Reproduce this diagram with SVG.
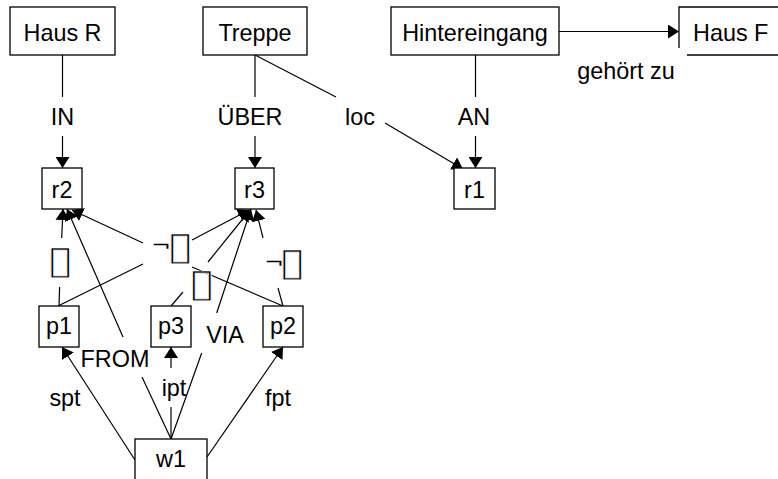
<svg xmlns="http://www.w3.org/2000/svg" width="778" height="479" viewBox="0 0 778 479">
<style>
text{font-family:"Liberation Sans",Arial,sans-serif;font-size:23.4px;fill:#000;text-anchor:middle}
.t{font-family:"DejaVu Sans",sans-serif;font-size:39px;stroke:#fff;stroke-width:0.7}
.n{font-family:"DejaVu Sans",sans-serif;font-size:18px}
.box{fill:#fff;stroke:#000;stroke-width:1.3}
.e{fill:none;stroke:#000;stroke-width:1.2}
.a{marker-end:url(#ah)}
</style>
<defs>
<marker id="ah" markerUnits="userSpaceOnUse" markerWidth="12" markerHeight="14" refX="11" refY="7" orient="auto">
<path d="M0,0 L11,7 L0,14 z" fill="#000"/>
</marker>
</defs>
<g id="connectors">
<g id="e-hausr-r2"><path class="e" d="M62.5,55 V97"/><path class="e a" d="M62.5,136 V168"/><text x="62.5" y="125">IN</text></g>
<g id="e-treppe-r3"><path class="e" d="M255,55 V97"/><path class="e a" d="M255,136 V168"/><text x="250" y="125">ÜBER</text></g>
<g id="e-hinter-r1"><path class="e" d="M475.5,55 V97"/><path class="e a" d="M475.5,136 V168"/><text x="474" y="125">AN</text></g>
<g id="e-treppe-r1"><path class="e" d="M255,55 L336,97"/><path class="e a" d="M385,123 L463,169"/><text x="360" y="125">loc</text></g>
<g id="e-hinter-hausf"><path class="e a" d="M559,31.5 H679"/><text x="626" y="79">gehört zu</text></g>
<g id="e-w1-p1"><path class="e a" d="M135,460 L62,347"/><text x="65" y="406">spt</text></g>
<g id="e-w1-p3"><path class="e" d="M171,439 V407"/><path class="e a" d="M171,368 V347"/><text x="174" y="396">ipt</text></g>
<g id="e-w1-p2"><path class="e a" d="M207,457 L283,347"/><text x="278" y="406">fpt</text></g>
<g id="e-w1-r2"><path class="e" d="M171,439 L142,377"/><path class="e a" d="M123,337 L67,209"/><text x="115" y="367">FROM</text></g>
<g id="e-w1-r3"><path class="e" d="M171,439 L201.7,353"/><path class="e a" d="M216.7,313 L251,209"/><text x="225" y="343">VIA</text></g>
<g id="e-p1-r2"><path class="e" d="M59,306 L59.6,287"/><path class="e a" d="M61.7,238 L63,209"/><text class="t" transform="matrix(1.3,0,0,1,60,0)" x="0" y="273.5">▯</text></g>
<g id="e-p1-r3"><path class="e" d="M58,306 L143,264"/><path class="e a" d="M192,240 L249,210"/></g>
<g id="e-p2-r2"><path class="e" d="M283,306 L192,267"/><path class="e a" d="M143,243 L72,210"/><text class="n" transform="matrix(1.3,0,0,1,161,0)" x="0" y="251">¬</text><text class="t" transform="matrix(1.3,0,0,1,180,0)" x="0" y="259.5">▯</text></g>
<g id="e-p3-r3"><path class="e" d="M171,306 L183,292"/><path class="e a" d="M208,262 L250,210"/><text class="t" transform="matrix(1.3,0,0,1,201.5,0)" x="0" y="296">▯</text></g>
<g id="e-p2-r3"><path class="e" d="M283,306 L278,288"/><path class="e a" d="M263,238 L256,210"/><text class="n" transform="matrix(1.3,0,0,1,274,0)" x="0" y="267.7">¬</text><text class="t" transform="matrix(1.3,0,0,1,292,0)" x="0" y="275.5">▯</text></g>
</g>
<g id="n-hausr"><rect class="box" x="10" y="7" width="105" height="48"/><text x="62.5" y="40.5">Haus R</text></g>
<g id="n-treppe"><rect class="box" x="203" y="7" width="104" height="48"/><text x="255" y="40.5">Treppe</text></g>
<g id="n-hinter"><rect class="box" x="391" y="7" width="168" height="48"/><text x="475" y="40.5">Hintereingang</text></g>
<g id="n-hausf"><path class="box" d="M679,48 V7 H790 M687,55 H790"/><text x="693" y="40.5" style="text-anchor:start">Haus F</text></g>
<g id="n-r2"><rect class="box" x="42" y="168" width="40" height="41"/><text x="62" y="198">r2</text></g>
<g id="n-r3"><rect class="box" x="235" y="168" width="39" height="41"/><text x="254.5" y="198">r3</text></g>
<g id="n-r1"><rect class="box" x="454" y="168" width="41" height="41"/><text x="474.5" y="198">r1</text></g>
<g id="n-p1"><rect class="box" x="39" y="306" width="40" height="41"/><text x="59" y="334">p1</text></g>
<g id="n-p3"><rect class="box" x="151" y="306" width="40" height="41"/><text x="171" y="334">p3</text></g>
<g id="n-p2"><rect class="box" x="263" y="306" width="40" height="41"/><text x="283" y="334">p2</text></g>
<g id="n-w1"><rect class="box" x="135" y="439" width="72" height="60"/><text x="171" y="466.7">w1</text></g>
</svg>
